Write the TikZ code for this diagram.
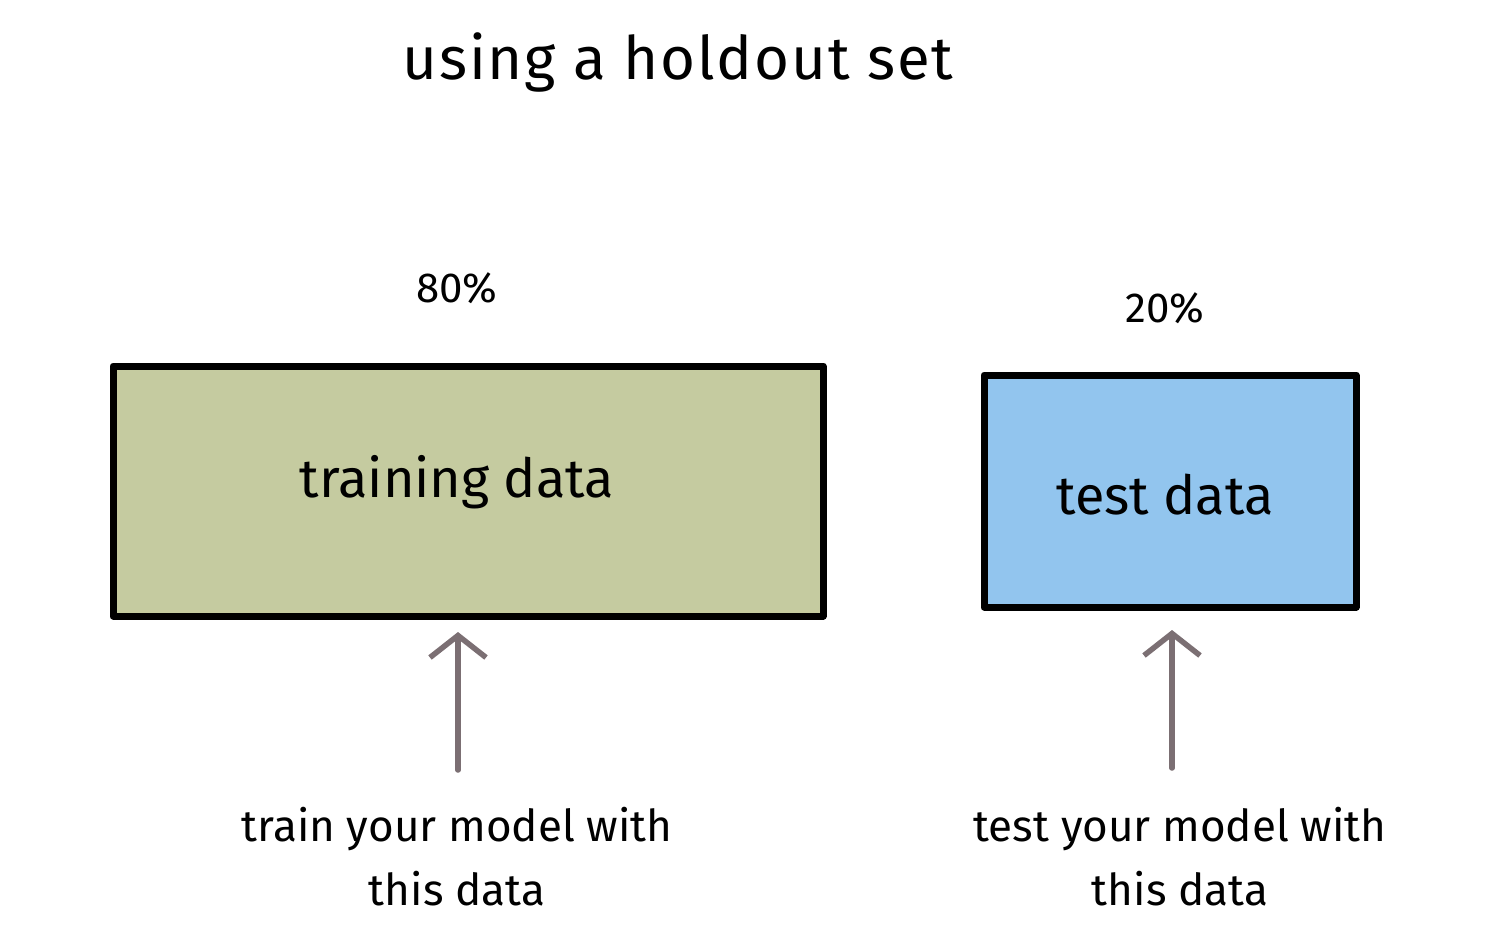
\documentclass[tikz,border=0pt]{standalone}
\usepackage{fontspec}
\setmainfont{Fira Sans}
\usetikzlibrary{arrows.meta}
\definecolor{greenfill}{HTML}{C5CBA0}
\definecolor{bluefill}{HTML}{92C5EE}
\definecolor{arrowgray}{HTML}{7B6F73}
\begin{document}
\begin{tikzpicture}[x=1pt,y=-1pt,
  databox/.style={draw=black,line width=7pt,line join=round,inner sep=0pt},
  lbl/.style={font=\fontsize{44}{64}\selectfont\addfontfeatures{Weight=Light},align=center,inner sep=0pt},
  up/.style={draw=arrowgray,line width=5.5pt,line cap=round,-{Straight Barb[length=22pt,width=56pt,line width=5.5pt]}}]
\useasboundingbox (0,0) rectangle (1491,948);
\fill[white] (0,0) rectangle (1491,948);
\node[font=\fontsize{60}{70}\selectfont\addfontfeatures{LetterSpace=3},inner sep=0pt] (title) at (678,62) {using a holdout set};
\node[font=\fontsize{42}{48}\selectfont,inner sep=0pt] (p80) at (457,288) {80\%};
\node[font=\fontsize{42}{48}\selectfont,inner sep=0pt] (p20) at (1165,308) {20\%};
\node[databox,fill=greenfill,minimum width=710pt,minimum height=250pt] (train) at (468,491) {};
\node[font=\fontsize{54}{60}\selectfont,inner sep=0pt] (traint) at (457,482) {training data};
\node[databox,fill=bluefill,minimum width=372pt,minimum height=232pt] (test) at (1170,491) {};
\node[font=\fontsize{54}{60}\selectfont,inner sep=0pt] (testt) at (1165,495) {test data};
\node[lbl] (trainlbl) at (457,857) {train your model with\\this data};
\node[lbl] (testlbl) at (1180,857) {test your model with\\this data};
\coordinate (a1s) at (458,770);
\coordinate (a1e) at (458,632);
\coordinate (a2s) at (1172,768);
\coordinate (a2e) at (1172,630);
\draw[up] (a1s) -- (a1e);
\draw[up] (a2s) -- (a2e);
\end{tikzpicture}
\end{document}
